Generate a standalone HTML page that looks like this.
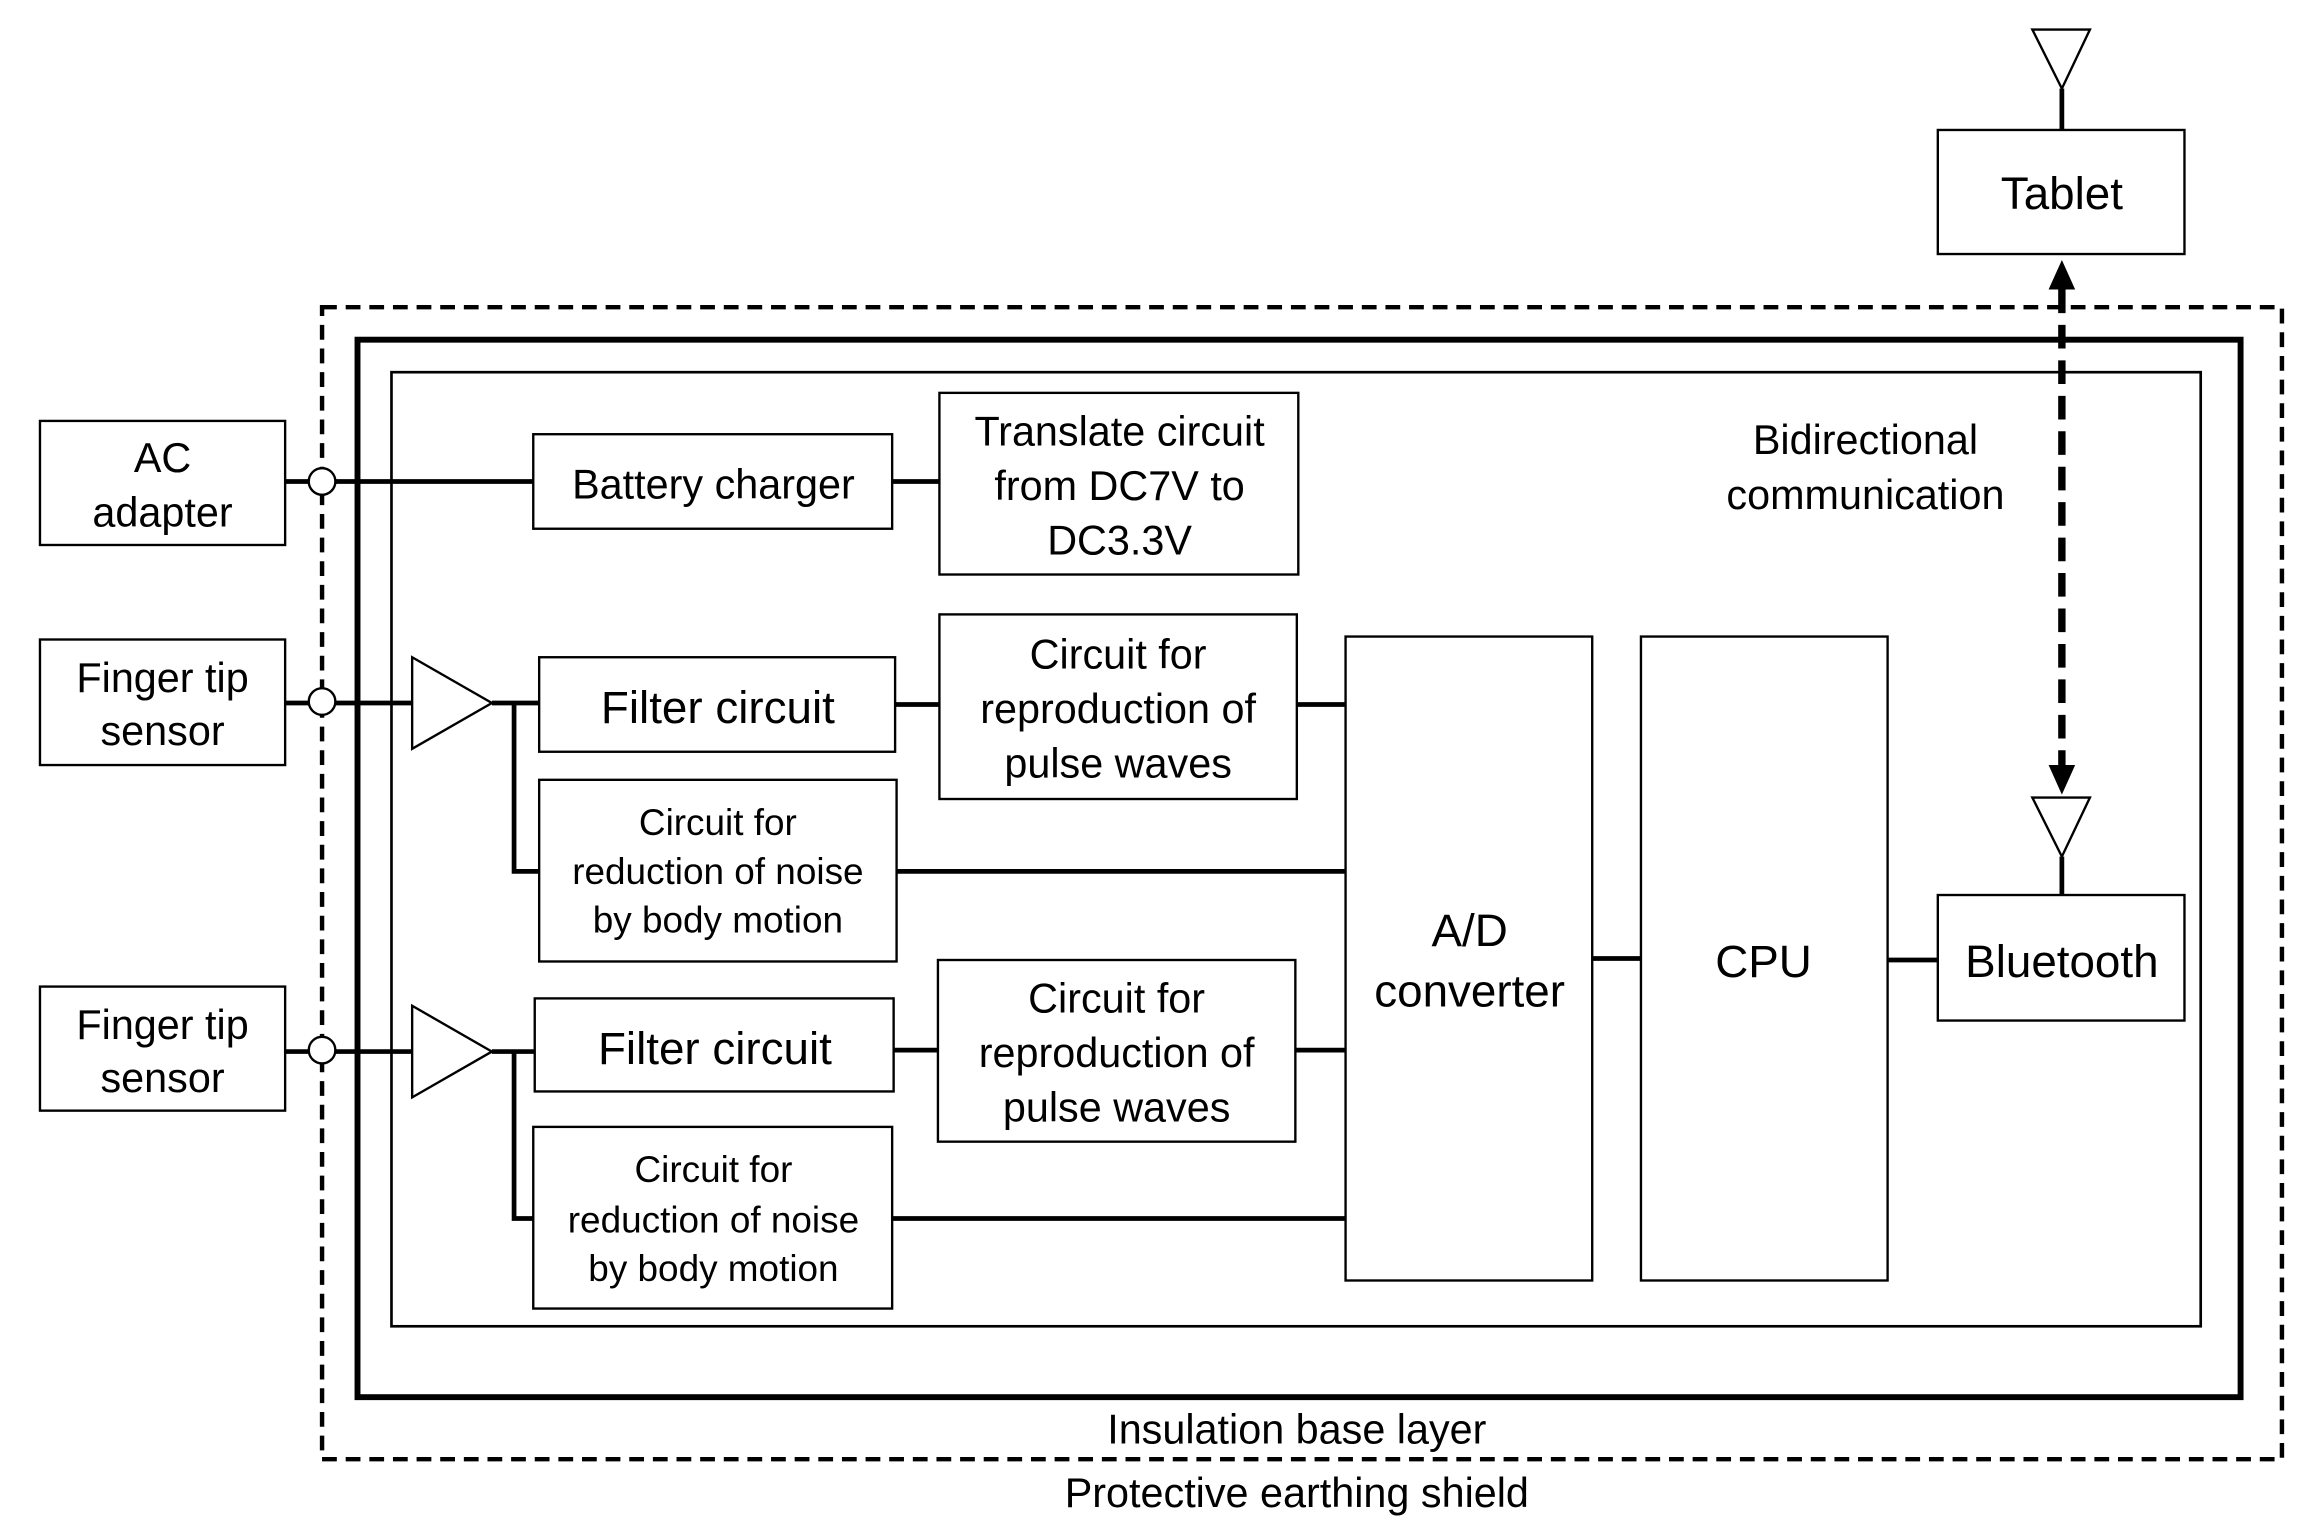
<!DOCTYPE html>
<html><head><meta charset="utf-8"><style>
html,body{margin:0;padding:0;background:#fff}
svg{display:block}
text{font-family:"Liberation Sans",Arial,sans-serif;fill:#000;text-anchor:middle;dominant-baseline:central}
</style></head><body>
<svg width="2316" height="1536" viewBox="0 0 1568 1040" xmlns="http://www.w3.org/2000/svg">
<rect width="1568" height="1040" fill="#fff"/>
<g fill="none" stroke="#000">
<rect x="218" y="208" width="1327" height="780" stroke-width="3" stroke-dasharray="10 6"/>
<rect x="242" y="230" width="1275" height="716" stroke-width="4"/>
<rect x="265" y="252" width="1225" height="646" stroke-width="1.8"/>
<g stroke-width="1.6">
<rect x="27" y="285" width="166" height="84"/>
<rect x="27" y="433" width="166" height="85"/>
<rect x="27" y="668" width="166" height="84"/>
<rect x="361" y="294" width="243" height="64"/>
<rect x="636" y="266" width="243" height="123"/>
<rect x="365" y="445" width="241" height="64"/>
<rect x="636" y="416" width="242" height="125"/>
<rect x="365" y="528" width="242" height="123"/>
<rect x="362" y="676" width="243" height="63"/>
<rect x="635" y="650" width="242" height="123"/>
<rect x="361" y="763" width="243" height="123"/>
<rect x="911" y="431" width="167" height="436"/>
<rect x="1111" y="431" width="167" height="436"/>
<rect x="1312" y="606" width="167" height="85"/>
<rect x="1312" y="88" width="167" height="84"/>
<polygon points="279,445 333,476 279,507"/>
<polygon points="279,681 333,712 279,743"/>
<polygon points="1376,540 1415,540 1396,580"/>
<polygon points="1376,20 1415,20 1396,60"/>
</g>
<g stroke-width="3.2">
<path d="M193 326H361M604 326H636"/>
<path d="M193 476H279M333 476H365M348 476V590H365M606 477H636M878 477H911M607 590H911"/>
<path d="M193 712H279M333 712H362M348 712V825H361M605 711H635M877 711H911M604 825H911"/>
<path d="M1078 649H1111M1278 650H1312M1396 580V606M1396 60V88"/>
</g>
<path d="M1396 196V520" stroke-width="5" stroke-dasharray="16 8"/>
<g fill="#fff" stroke-width="1.6">
<circle cx="218" cy="326" r="9"/>
<circle cx="218" cy="475" r="9"/>
<circle cx="218" cy="711" r="9"/>
</g>
</g>
<polygon points="1396,176 1387,196 1405,196" fill="#000"/>
<polygon points="1396,538 1387,518 1405,518" fill="#000"/>
<g font-size="28">
<text x="110" y="310">AC</text><text x="110" y="347">adapter</text>
<text x="110" y="459">Finger tip</text><text x="110" y="495">sensor</text>
<text x="110" y="694">Finger tip</text><text x="110" y="730">sensor</text>
<text x="483" y="328">Battery charger</text>
<text x="758" y="292">Translate circuit</text><text x="758" y="329">from DC7V to</text><text x="758" y="366">DC3.3V</text>
<text x="757" y="443">Circuit for</text><text x="757" y="480">reproduction of</text><text x="757" y="517">pulse waves</text>
<text x="756" y="676">Circuit for</text><text x="756" y="713">reproduction of</text><text x="756" y="750">pulse waves</text>
<text x="1263" y="298">Bidirectional</text><text x="1263" y="335">communication</text>
<text x="878" y="968">Insulation base layer</text>
<text x="878" y="1011">Protective earthing shield</text>
</g>
<g font-size="31">
<text x="486" y="479">Filter circuit</text>
<text x="484" y="710">Filter circuit</text>
<text x="995" y="630">A/D</text><text x="995" y="671">converter</text>
<text x="1194" y="651">CPU</text>
<text x="1396" y="651">Bluetooth</text>
<text x="1396" y="131">Tablet</text>
</g>
<g font-size="25">
<text x="486" y="557">Circuit for</text><text x="486" y="590">reduction of noise</text><text x="486" y="623">by body motion</text>
<text x="483" y="792">Circuit for</text><text x="483" y="826">reduction of noise</text><text x="483" y="859">by body motion</text>
</g>
</svg>
</body></html>
